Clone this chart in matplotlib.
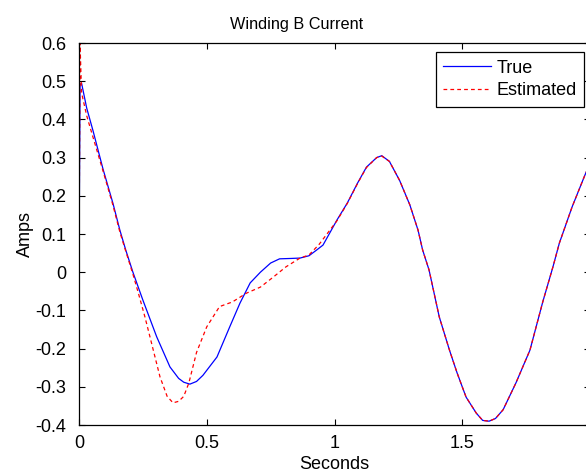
import matplotlib
matplotlib.use("Agg")
import matplotlib.pyplot as plt

plt.rcParams["font.family"] = ["Liberation Sans", "DejaVu Sans"]

# values
true_t = [0.0, 0.004, 0.01, 0.03, 0.055, 0.094, 0.133, 0.16, 0.183, 0.211,
          0.25, 0.304, 0.356, 0.39, 0.41, 0.434, 0.46, 0.485, 0.54, 0.59, 0.63,
          0.67, 0.71, 0.75, 0.785, 0.83, 0.865, 0.90, 0.93, 0.955, 1.01,
          1.05, 1.09, 1.125, 1.165, 1.185, 1.215, 1.255, 1.295, 1.327, 1.345,
          1.37, 1.41, 1.45, 1.48, 1.515, 1.555, 1.58, 1.605, 1.63, 1.66,
          1.71, 1.765, 1.815, 1.855, 1.88, 1.93, 1.98, 2.0]
true_amps = [0.0, 0.49, 0.495, 0.43, 0.37, 0.27, 0.18, 0.11, 0.058, 0.0,
             -0.073, -0.169, -0.248, -0.278, -0.288, -0.293, -0.286, -0.27, -0.222, -0.143, -0.081,
             -0.028, 0.0, 0.024, 0.035, 0.036, 0.037, 0.043, 0.058, 0.071, 0.137,
             0.181, 0.233, 0.275, 0.30, 0.305, 0.29, 0.24, 0.176, 0.11, 0.058,
             0.006, -0.117, -0.204, -0.264, -0.327, -0.369, -0.388, -0.39, -0.383, -0.36,
             -0.29, -0.204, -0.078, 0.014, 0.076, 0.171, 0.254, 0.285]

est_t = [0.0, 0.004, 0.01, 0.03, 0.043, 0.094, 0.133, 0.16, 0.183, 0.211,
         0.232, 0.258, 0.278, 0.317, 0.345, 0.368, 0.39, 0.41, 0.43, 0.46,
         0.50, 0.55, 0.60, 0.655, 0.71, 0.76, 0.81, 0.865, 0.90, 0.94,
         1.01, 1.05, 1.09, 1.125, 1.165, 1.185, 1.215, 1.255, 1.295, 1.327,
         1.345, 1.37, 1.41, 1.45, 1.48, 1.515, 1.555, 1.58, 1.605, 1.63,
         1.66, 1.71, 1.765, 1.815, 1.855, 1.88, 1.93, 1.98, 2.0]
est_amps = [0.0, 0.6, 0.47, 0.41, 0.38, 0.265, 0.175, 0.105, 0.055, -0.005,
            -0.054, -0.117, -0.17, -0.274, -0.325, -0.342, -0.338, -0.325, -0.29, -0.21,
            -0.143, -0.09, -0.078, -0.055, -0.039, -0.013, 0.014, 0.037, 0.045, 0.073,
            0.135, 0.18, 0.232, 0.274, 0.30, 0.304, 0.29, 0.24, 0.176, 0.11,
            0.058, 0.006, -0.117, -0.204, -0.264, -0.327, -0.369, -0.388, -0.39, -0.383,
            -0.36, -0.29, -0.204, -0.078, 0.014, 0.076, 0.171, 0.254, 0.285]

x_ticks = [0, 0.5, 1, 1.5, 2]
x_ticklabels = ["0", "0.5", "1", "1.5", "2"]
y_ticks = [-0.4, -0.3, -0.2, -0.1, 0, 0.1, 0.2, 0.3, 0.4, 0.5, 0.6]
y_ticklabels = ["-0.4", "-0.3", "-0.2", "-0.1", "0", "0.1", "0.2", "0.3", "0.4", "0.5", "0.6"]

fs = 13

fig = plt.figure(figsize=(5.86, 4.70), dpi=100)
# the reference is cropped: the right edge of the axes sits just past the picture
ax = fig.add_axes([79 / 586, 45 / 470, 511 / 586, 382 / 470])

ax.plot(true_t, true_amps, color="#0000ff", lw=0.9, label="True")
ax.plot(est_t, est_amps, color="#ff0000", lw=0.9, ls=(0, (3, 2.5)), label="Estimated")

ax.set_xlim(0, 2)
ax.set_ylim(-0.4, 0.6)
ax.set_xticks(x_ticks)
ax.set_xticklabels(x_ticklabels)
ax.set_yticks(y_ticks)
ax.set_yticklabels(y_ticklabels)
ax.tick_params(axis="both", direction="in", top=True, right=True, length=4,
               width=0.8, labelsize=fs)
ax.tick_params(axis="x", pad=7)
ax.tick_params(axis="y", pad=9)
for sp in ax.spines.values():
    sp.set_linewidth(0.9)

ax.set_title("Winding B Current", fontsize=11.7, pad=10, x=(297 - 79) / 511)
ax.set_xlabel("Seconds", fontsize=fs, labelpad=3)
ax.set_ylabel("Amps", fontsize=fs, labelpad=1)

leg = ax.legend(loc="upper right", bbox_to_anchor=(584 / 586, (470 - 52) / 470),
                bbox_transform=fig.transFigure, fontsize=fs, fancybox=False,
                framealpha=1, edgecolor="black", handlelength=2.65,
                handletextpad=0.28, borderpad=0.42, labelspacing=0.3,
                borderaxespad=0)
leg.get_frame().set_linewidth(0.9)

fig.savefig("out.png", dpi=100)
